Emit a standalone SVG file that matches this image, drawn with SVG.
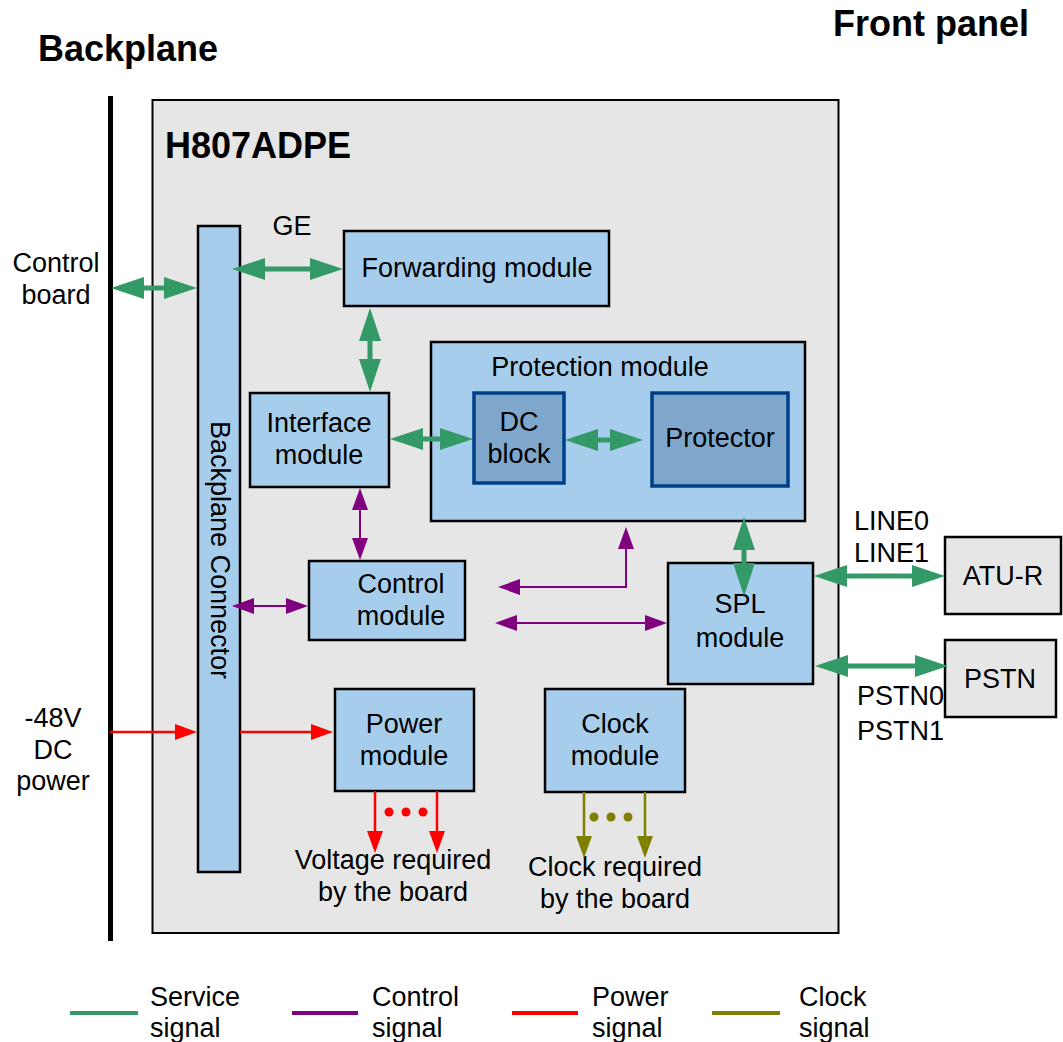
<svg xmlns="http://www.w3.org/2000/svg" width="1063" height="1042" viewBox="0 0 1063 1042">
<style>
text{font-family:"Liberation Sans",Arial,sans-serif;font-size:27px;fill:#000}
.c{text-anchor:middle}
.b{font-weight:bold;font-size:36px}
.box{fill:#A7CDEC;stroke:#000;stroke-width:2.5}
.ext{fill:#E6E6E6;stroke:#000;stroke-width:2.5}
.inner{fill:#7FA6CB;stroke:#003F87;stroke-width:3.5}
.g{stroke:#339966;stroke-width:5;fill:none;marker-start:url(#ga);marker-end:url(#ga)}
.p{stroke:#800080;stroke-width:2;fill:none;marker-start:url(#pa);marker-end:url(#pa)}
.r{stroke:#FF0000;stroke-width:2.5;fill:none;marker-end:url(#ra)}
.o{stroke:#808000;stroke-width:2.5;fill:none;marker-end:url(#oa)}
</style>
<defs>
<marker id="ga" markerUnits="userSpaceOnUse" markerWidth="33" markerHeight="22" refX="15" refY="11" orient="auto-start-reverse" overflow="visible"><path d="M0,0 L33,11 L0,22 z" fill="#339966"/></marker>
<marker id="pa" markerUnits="userSpaceOnUse" markerWidth="22" markerHeight="16" refX="12" refY="8" orient="auto-start-reverse" overflow="visible"><path d="M0,0 L22,8 L0,16 z" fill="#800080"/></marker>
<marker id="ra" markerUnits="userSpaceOnUse" markerWidth="22" markerHeight="16" refX="12" refY="8" orient="auto" overflow="visible"><path d="M0,0 L22,8 L0,16 z" fill="#FF0000"/></marker>
<marker id="oa" markerUnits="userSpaceOnUse" markerWidth="22" markerHeight="16" refX="12" refY="8" orient="auto" overflow="visible"><path d="M0,0 L22,8 L0,16 z" fill="#808000"/></marker>
</defs>
<rect width="1063" height="1042" fill="#fff"/>

<g id="titles">
<text class="b" x="38" y="61">Backplane</text>
<text class="b" x="833" y="36">Front panel</text>
</g>

<g id="backplane-line"><rect x="108" y="96" width="5" height="845" fill="#000"/></g>

<g id="board">
<rect x="152.5" y="100" width="686" height="833" fill="#E6E6E6" stroke="#000" stroke-width="2"/>
<text class="b" x="165" y="158">H807ADPE</text>
</g>

<g id="backplane-connector">
<rect class="box" x="198" y="226" width="42" height="646"/>
<text class="c" transform="translate(211,550) rotate(90)">Backplane Connector</text>
</g>

<g id="forwarding">
<rect class="box" x="344" y="231" width="265" height="75"/>
<text class="c" x="477" y="277">Forwarding module</text>
</g>

<g id="protection">
<rect class="box" x="431" y="342" width="374" height="179"/>
<text class="c" x="600" y="376">Protection module</text>
</g>
<g id="dcblock">
<rect class="inner" x="474" y="393" width="90" height="90"/>
<text class="c" x="519" y="431">DC</text>
<text class="c" x="519" y="463">block</text>
</g>
<g id="protector">
<rect class="inner" x="652" y="393" width="136" height="93"/>
<text class="c" x="720" y="447">Protector</text>
</g>

<g id="interface">
<rect class="box" x="250" y="393" width="139" height="94"/>
<text class="c" x="319" y="432">Interface</text>
<text class="c" x="319" y="464">module</text>
</g>

<g id="control">
<rect class="box" x="309" y="561" width="156" height="79"/>
<text class="c" x="401" y="593">Control</text>
<text class="c" x="401" y="625">module</text>
</g>

<g id="spl">
<rect class="box" x="668" y="563" width="145" height="121"/>
<text class="c" x="740" y="613">SPL</text>
<text class="c" x="740" y="647">module</text>
</g>

<g id="power">
<rect class="box" x="335" y="689" width="139" height="102"/>
<text class="c" x="404" y="733">Power</text>
<text class="c" x="404" y="765">module</text>
</g>

<g id="clock">
<rect class="box" x="545" y="689" width="140" height="103"/>
<text class="c" x="615" y="733">Clock</text>
<text class="c" x="615" y="765">module</text>
</g>

<g id="atur">
<rect class="ext" x="945" y="537" width="116" height="77"/>
<text class="c" x="1003" y="585">ATU-R</text>
</g>

<g id="pstn">
<rect class="ext" x="945" y="640" width="111" height="77"/>
<text class="c" x="1000" y="688">PSTN</text>
</g>

<g id="labels">
<text class="c" x="56" y="272">Control</text>
<text class="c" x="56" y="304">board</text>
<text class="c" x="292" y="235">GE</text>
<text class="c" x="53" y="727">-48V</text>
<text class="c" x="53" y="759">DC</text>
<text class="c" x="53" y="790">power</text>
<text x="854" y="530">LINE0</text>
<text x="854" y="562">LINE1</text>
<text x="857" y="705">PSTN0</text>
<text x="857" y="740">PSTN1</text>
<text class="c" x="393" y="869">Voltage required</text>
<text class="c" x="393" y="901">by the board</text>
<text class="c" x="615" y="876">Clock required</text>
<text class="c" x="615" y="908">by the board</text>
</g>

<g id="connectors">
<line class="g" x1="129" y1="288" x2="179" y2="288"/>
<line class="g" x1="250" y1="269" x2="325" y2="269"/>
<line class="g" x1="370" y1="326" x2="370" y2="374"/>
<line class="g" x1="408" y1="439" x2="455" y2="439"/>
<line class="g" x1="583" y1="440" x2="625" y2="440"/>
<line class="g" x1="744" y1="535" x2="744" y2="578"/>
<line class="g" x1="832" y1="576" x2="927" y2="576"/>
<line class="g" x1="833" y1="666" x2="930" y2="666"/>

<line class="p" x1="360" y1="498" x2="360" y2="550"/>
<line class="p" x1="242" y1="606" x2="298" y2="606"/>
<polyline class="p" points="508,587 626,587 626,537"/>
<line class="p" x1="505" y1="623" x2="657" y2="623"/>

<line class="r" x1="110" y1="732" x2="187" y2="732"/>
<line class="r" x1="240" y1="732" x2="323" y2="732"/>
<line class="r" x1="375" y1="791" x2="375" y2="843"/>
<line class="r" x1="437" y1="791" x2="437" y2="843"/>
<circle cx="389" cy="812" r="4.5" fill="#FF0000"/>
<circle cx="406" cy="812" r="4.5" fill="#FF0000"/>
<circle cx="423" cy="812" r="4.5" fill="#FF0000"/>

<line class="o" x1="584" y1="792" x2="584" y2="848"/>
<line class="o" x1="645" y1="792" x2="645" y2="848"/>
<circle cx="594" cy="817" r="4.5" fill="#808000"/>
<circle cx="611" cy="817" r="4.5" fill="#808000"/>
<circle cx="628" cy="817" r="4.5" fill="#808000"/>
</g>

<g id="legend">
<line x1="70" y1="1013" x2="138" y2="1013" stroke="#339966" stroke-width="4"/>
<text x="150" y="1006">Service</text>
<text x="150" y="1037">signal</text>
<line x1="292" y1="1013" x2="358" y2="1013" stroke="#800080" stroke-width="4"/>
<text x="372" y="1006">Control</text>
<text x="372" y="1037">signal</text>
<line x1="512" y1="1013" x2="578" y2="1013" stroke="#FF0000" stroke-width="4"/>
<text x="592" y="1006">Power</text>
<text x="592" y="1037">signal</text>
<line x1="712" y1="1013" x2="780" y2="1013" stroke="#808000" stroke-width="4"/>
<text x="799" y="1006">Clock</text>
<text x="799" y="1037">signal</text>
</g>
</svg>
